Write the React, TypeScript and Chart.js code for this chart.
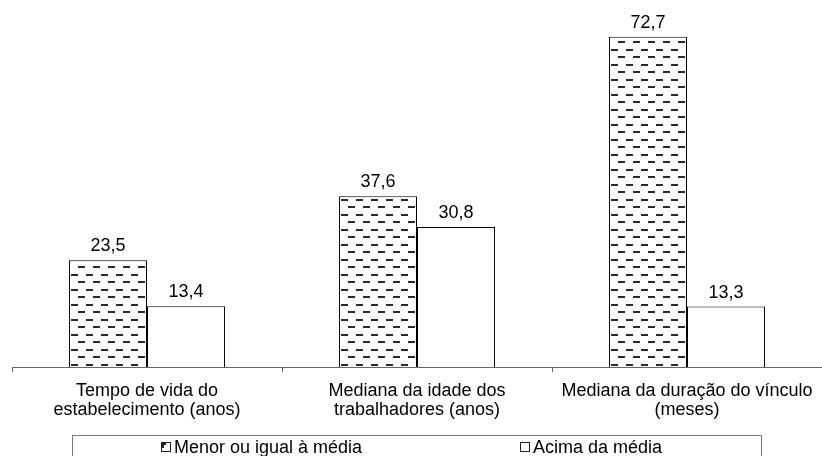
import React, { useEffect, useRef } from "react";
import { Chart, registerables } from "chart.js";

Chart.register(...registerables);

const categories: string[][] = [
  ["Tempo de vida do", "estabelecimento (anos)"],
  ["Mediana da idade dos", "trabalhadores (anos)"],
  ["Mediana da duração do vínculo", "(meses)"],
];
const seriesNames = ["Menor ou igual à média", "Acima da média"];
const menorOuIgual = [23.5, 37.6, 72.7];
const acima = [13.4, 30.8, 13.3];

const FONT = '"Liberation Sans", Arial, Helvetica, sans-serif';

function makePattern(): CanvasPattern | string {
  const c = document.createElement("canvas");
  c.width = 15;
  c.height = 15;
  const g = c.getContext("2d");
  if (!g) return "#fff";
  g.fillStyle = "#ffffff";
  g.fillRect(0, 0, 15, 15);
  g.fillStyle = "#2a2a2a";
  g.fillRect(11, 4, 4, 2);
  g.fillRect(0, 4, 3, 2);
  g.fillRect(3, 11, 7, 2);
  const p = g.createPattern(c, "repeat");
  return p || "#fff";
}

const valueLabels = {
  id: "valueLabels",
  afterDatasetsDraw(chart: any) {
    const ctx = chart.ctx;
    ctx.save();
    ctx.font = `18px ${FONT}`;
    ctx.fillStyle = "#000";
    ctx.textAlign = "center";
    ctx.textBaseline = "alphabetic";
    chart.data.datasets.forEach((ds: any, i: number) => {
      const meta = chart.getDatasetMeta(i);
      meta.data.forEach((bar: any, j: number) => {
        const v = ds.data[j] as number;
        const txt = v.toFixed(1).replace(".", ",");
        ctx.fillText(txt, bar.x, bar.y - 9);
      });
    });
    ctx.restore();
  },
};

const boxLegend = {
  id: "boxLegend",
  afterDraw(chart: any) {
    const ctx = chart.ctx;
    ctx.save();
    ctx.strokeStyle = "#7a7a7a";
    ctx.lineWidth = 1;
    ctx.strokeRect(72.5, 435.5, 689, 30);
    ctx.font = `18px ${FONT}`;
    ctx.textBaseline = "middle";
    ctx.textAlign = "left";
    const items = [
      { x: 161, label: chart.data.datasets[0].label, patterned: true },
      { x: 520, label: chart.data.datasets[1].label, patterned: false },
    ];
    const cy = 447;
    items.forEach((it) => {
      ctx.fillStyle = "#fff";
      ctx.fillRect(it.x, cy - 5, 10, 10);
      ctx.strokeStyle = "#222";
      ctx.strokeRect(it.x + 0.5, cy - 4.5, 9, 9);
      if (it.patterned) {
        ctx.fillStyle = "#222";
        ctx.fillRect(it.x + 1, cy - 4, 4, 2);
        ctx.fillRect(it.x + 1, cy - 4, 2, 5);
      }
      ctx.fillStyle = "#000";
      ctx.fillText(it.label, it.x + 13, cy + 1);
    });
    ctx.restore();
  },
};

export default function App() {
  const ref = useRef<HTMLCanvasElement | null>(null);
  useEffect(() => {
    document.body.style.margin = "0";
    const el = ref.current;
    if (!el) return;
    const chart = new Chart(el, {
      type: "bar",
      data: {
        labels: categories,
        datasets: [
          {
            label: seriesNames[0],
            data: menorOuIgual,
            backgroundColor: makePattern() as any,
            borderColor: "#000",
            borderWidth: 1,
            categoryPercentage: 0.578,
            barPercentage: 1,
          },
          {
            label: seriesNames[1],
            data: acima,
            backgroundColor: "#ffffff",
            borderColor: "#000",
            borderWidth: 1,
            categoryPercentage: 0.578,
            barPercentage: 1,
          },
        ],
      },
      options: {
        animation: false,
        responsive: false,
        maintainAspectRatio: false,
        layout: { padding: { left: 12, right: 0, top: 3.6, bottom: 0 } },
        plugins: {
          legend: { display: false },
          tooltip: { enabled: false },
        },
        scales: {
          y: {
            display: false,
            min: 0,
            max: 80,
          },
          x: {
            offset: true,
            grid: {
              offset: true,
              drawOnChartArea: false,
              drawTicks: true,
              tickLength: 5,
              color: "#666",
              lineWidth: 1,
            },
            border: { display: true, color: "#666", width: 1 },
            ticks: {
              color: "#000",
              font: { family: FONT, size: 18, lineHeight: 1.08 },
              padding: 9,
              maxRotation: 0,
              autoSkip: false,
            },
            afterFit: (scale: any) => {
              scale.height = 89;
            },
          },
        },
      },
      plugins: [valueLabels, boxLegend],
    });
    return () => chart.destroy();
  }, []);
  return (
    <div style={{ width: 822, height: 456 }}>
      <canvas ref={ref} width={822} height={456} style={{ display: "block" }} />
    </div>
  );
}
